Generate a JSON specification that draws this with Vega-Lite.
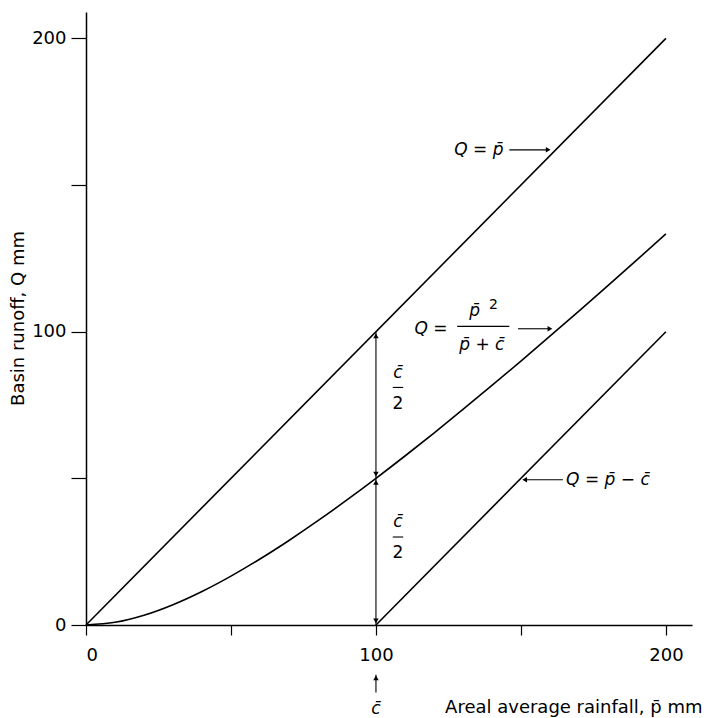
{
  "$schema": "https://vega.github.io/schema/vega-lite/v6.json",
  "autosize": "none",
  "padding": {"left": 86, "top": 12, "right": 15, "bottom": 93},
  "width": 606,
  "height": 613,
  "background": "white",
  "config": {
    "view": {"stroke": null},
    "font": "DejaVu Sans",
    "axis": {
      "domainColor": "black", "domainWidth": 1.5, "tickColor": "black", "tickWidth": 1.2,
      "labelColor": "black", "titleColor": "black", "labelFont": "DejaVu Sans", "titleFont": "DejaVu Sans",
      "labelFontSize": 18, "titleFontSize": 18, "titleFontWeight": "normal", "grid": false
    }
  },
  "layer": [
    {
      "data": {"values": [
        {"series": "Q = p", "p": 0, "Q": 0}, {"series": "Q = p", "p": 200, "Q": 200},
        {"series": "Q = p - c", "p": 100, "Q": 0}, {"series": "Q = p - c", "p": 200, "Q": 100},
        {"series": "Q = p2/(p+c)", "p": 0, "Q": 0},
        {"series": "Q = p2/(p+c)", "p": 10, "Q": 0.909},
        {"series": "Q = p2/(p+c)", "p": 20, "Q": 3.333},
        {"series": "Q = p2/(p+c)", "p": 30, "Q": 6.923},
        {"series": "Q = p2/(p+c)", "p": 40, "Q": 11.429},
        {"series": "Q = p2/(p+c)", "p": 50, "Q": 16.667},
        {"series": "Q = p2/(p+c)", "p": 60, "Q": 22.5},
        {"series": "Q = p2/(p+c)", "p": 70, "Q": 28.824},
        {"series": "Q = p2/(p+c)", "p": 80, "Q": 35.556},
        {"series": "Q = p2/(p+c)", "p": 90, "Q": 42.632},
        {"series": "Q = p2/(p+c)", "p": 100, "Q": 50},
        {"series": "Q = p2/(p+c)", "p": 110, "Q": 57.619},
        {"series": "Q = p2/(p+c)", "p": 120, "Q": 65.455},
        {"series": "Q = p2/(p+c)", "p": 130, "Q": 73.478},
        {"series": "Q = p2/(p+c)", "p": 140, "Q": 81.667},
        {"series": "Q = p2/(p+c)", "p": 150, "Q": 90},
        {"series": "Q = p2/(p+c)", "p": 160, "Q": 98.462},
        {"series": "Q = p2/(p+c)", "p": 170, "Q": 107.037},
        {"series": "Q = p2/(p+c)", "p": 180, "Q": 115.714},
        {"series": "Q = p2/(p+c)", "p": 190, "Q": 124.483},
        {"series": "Q = p2/(p+c)", "p": 200, "Q": 133.333}
      ]},
      "mark": {"type": "line", "color": "black", "strokeWidth": 1.6, "interpolate": "monotone"},
      "encoding": {
        "x": {"field": "p", "type": "quantitative",
          "scale": {"domain": [0, 209], "nice": false, "zero": false},
          "axis": {"values": [0, 50, 100, 150, 200], "tickSize": 10, "labelPadding": 11,
            "labelExpr": "datum.value % 100 === 0 ? datum.label : ''",
            "title": "Areal average rainfall, p̄  mm", "titleAnchor": null,
            "titleX": 616, "titleY": 82, "titleAlign": "right", "titleBaseline": "middle"}},
        "y": {"field": "Q", "type": "quantitative",
          "scale": {"domain": [0, 209], "nice": false, "zero": false},
          "axis": {"values": [0, 50, 100, 150, 200], "tickSize": 15, "labelPadding": 5,
            "labelExpr": "datum.value % 100 === 0 ? datum.label : ''",
            "title": "Basin runoff, Q  mm", "titleAngle": -90,
            "titleX": -68, "titleY": 306, "titleAlign": "center", "titleBaseline": "middle"}},
        "detail": {"field": "series", "type": "nominal"}
      }
    },
    {
      "data": {"values": [{"x": 100, "y": 0, "y2": 100}]},
      "mark": {"type": "rule", "color": "black", "strokeWidth": 1.1},
      "encoding": {
        "x": {"field": "x", "type": "quantitative"},
        "y": {"field": "y", "type": "quantitative"},
        "y2": {"field": "y2"}
      }
    },
    {
      "data": {"values": [
        {"x": 146, "x2": 159, "y": 162},
        {"x": 149, "x2": 160, "y": 101},
        {"x": 151, "x2": 164.5, "y": 49.5},
        {"x": 128, "x2": 146, "y": 101.8},
        {"x": 105.8, "x2": 109.4, "y": 81},
        {"x": 105.8, "x2": 109.4, "y": 30},
        {"x": 100, "x2": 100, "y": -17, "y2": -23}
      ]},
      "mark": {"type": "rule", "color": "black", "strokeWidth": 1.1},
      "encoding": {
        "x": {"field": "x", "type": "quantitative"},
        "x2": {"field": "x2"},
        "y": {"field": "y", "type": "quantitative"},
        "y2": {"field": "y2"}
      }
    },
    {
      "data": {"values": [{"x": 100, "y": 98.6}, {"x": 100, "y": 48.6}, {"x": 100, "y": -18}]},
      "mark": {"type": "point", "shape": "triangle-up", "filled": true, "color": "black", "size": 30, "opacity": 1},
      "encoding": {"x": {"field": "x", "type": "quantitative"}, "y": {"field": "y", "type": "quantitative"}}
    },
    {
      "data": {"values": [{"x": 100, "y": 51.4}, {"x": 100, "y": 1.4}]},
      "mark": {"type": "point", "shape": "triangle-down", "filled": true, "color": "black", "size": 30, "opacity": 1},
      "encoding": {"x": {"field": "x", "type": "quantitative"}, "y": {"field": "y", "type": "quantitative"}}
    },
    {
      "data": {"values": [{"x": 159.4, "y": 162}, {"x": 160, "y": 101}]},
      "mark": {"type": "point", "shape": "triangle-right", "filled": true, "color": "black", "size": 30, "opacity": 1},
      "encoding": {"x": {"field": "x", "type": "quantitative"}, "y": {"field": "y", "type": "quantitative"}}
    },
    {
      "data": {"values": [{"x": 151.3, "y": 49.5}]},
      "mark": {"type": "point", "shape": "triangle-left", "filled": true, "color": "black", "size": 30, "opacity": 1},
      "encoding": {"x": {"field": "x", "type": "quantitative"}, "y": {"field": "y", "type": "quantitative"}}
    },
    {
      "data": {"values": [
        {"x": 135.5, "y": 162, "t": "Q = p̄"},
        {"x": 119, "y": 101, "t": "Q ="},
        {"x": 134, "y": 107, "t": "p̄"},
        {"x": 136.5, "y": 95.5, "t": "p̄ + c̄"},
        {"x": 180, "y": 49.5, "t": "Q = p̄ − c̄"},
        {"x": 107.6, "y": 86, "t": "c̄"},
        {"x": 107.6, "y": 35, "t": "c̄"},
        {"x": 100, "y": -28.5, "t": "c̄"}
      ]},
      "mark": {"type": "text", "fontStyle": "italic", "fontSize": 17, "color": "black", "align": "center", "baseline": "middle", "font": "DejaVu Sans"},
      "encoding": {
        "x": {"field": "x", "type": "quantitative"},
        "y": {"field": "y", "type": "quantitative"},
        "text": {"field": "t", "type": "nominal"}
      }
    },
    {
      "data": {"values": [
        {"x": 107.6, "y": 75.5, "t": "2"},
        {"x": 107.6, "y": 24.5, "t": "2"}
      ]},
      "mark": {"type": "text", "fontSize": 17, "color": "black", "align": "center", "baseline": "middle", "font": "DejaVu Sans"},
      "encoding": {
        "x": {"field": "x", "type": "quantitative"},
        "y": {"field": "y", "type": "quantitative"},
        "text": {"field": "t", "type": "nominal"}
      }
    },
    {
      "data": {"values": [{"x": 140.5, "y": 109, "t": "2"}]},
      "mark": {"type": "text", "fontSize": 14, "color": "black", "align": "center", "baseline": "middle", "font": "DejaVu Sans"},
      "encoding": {
        "x": {"field": "x", "type": "quantitative"},
        "y": {"field": "y", "type": "quantitative"},
        "text": {"field": "t", "type": "nominal"}
      }
    }
  ]
}
